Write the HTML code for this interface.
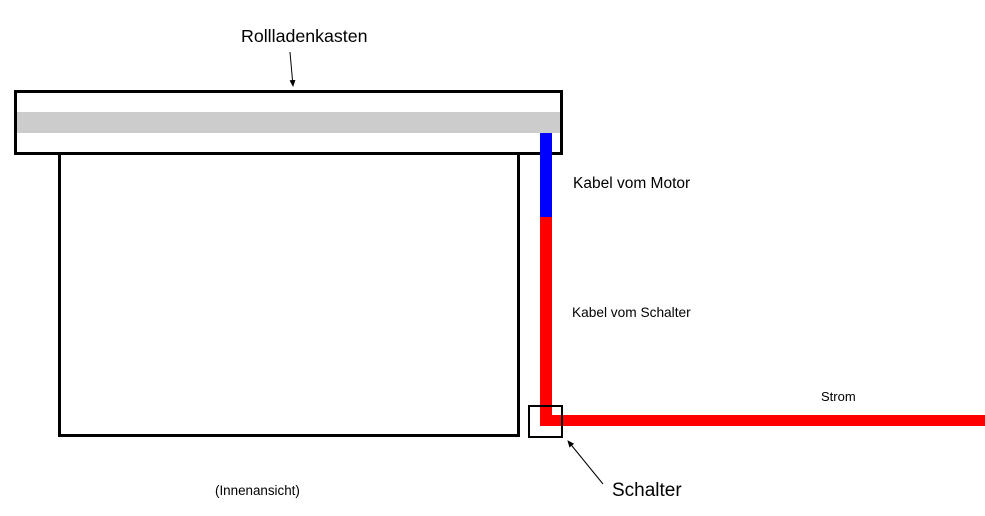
<!DOCTYPE html>
<html><head><meta charset="utf-8"><style>
html,body{margin:0;padding:0;background:#fff;}
svg{display:block;}
text{font-family:"Liberation Sans",Arial,sans-serif;fill:#000;}
</style></head><body>
<svg width="985" height="516" viewBox="0 0 985 516" xmlns="http://www.w3.org/2000/svg">
<defs><marker id="ah" markerWidth="8" markerHeight="8" refX="6" refY="3" orient="auto" markerUnits="userSpaceOnUse"><path d="M0,0 L7,3 L0,6 Z" fill="#000"/></marker></defs>
<rect x="59.5" y="153.5" width="459" height="282" fill="none" stroke="#000" stroke-width="3"/>
<rect x="15.5" y="91.5" width="546" height="62" fill="#fff" stroke="#000" stroke-width="3"/>
<rect x="17" y="112" width="543" height="21" fill="#cccccc"/>
<rect x="540" y="133" width="12" height="84" fill="#0000ff"/>
<rect x="540" y="217" width="12" height="209" fill="#ff0000"/>
<rect x="540" y="415" width="445" height="11" fill="#ff0000"/>
<rect x="529" y="406" width="33" height="31" fill="none" stroke="#000" stroke-width="2"/>
<line x1="290" y1="52" x2="293" y2="86" stroke="#000" stroke-width="1" marker-end="url(#ah)"/>
<line x1="603" y1="484" x2="568" y2="441" stroke="#000" stroke-width="1" marker-end="url(#ah)"/>
<text x="241" y="42" font-size="17.8">Rollladenkasten</text>
<text x="573" y="188" font-size="15.5">Kabel vom Motor</text>
<text x="572" y="317" font-size="13.7">Kabel vom Schalter</text>
<text x="821" y="401" font-size="13">Strom</text>
<text x="612" y="496" font-size="19">Schalter</text>
<text x="215" y="495" font-size="13.4">(Innenansicht)</text>
</svg>
</body></html>
